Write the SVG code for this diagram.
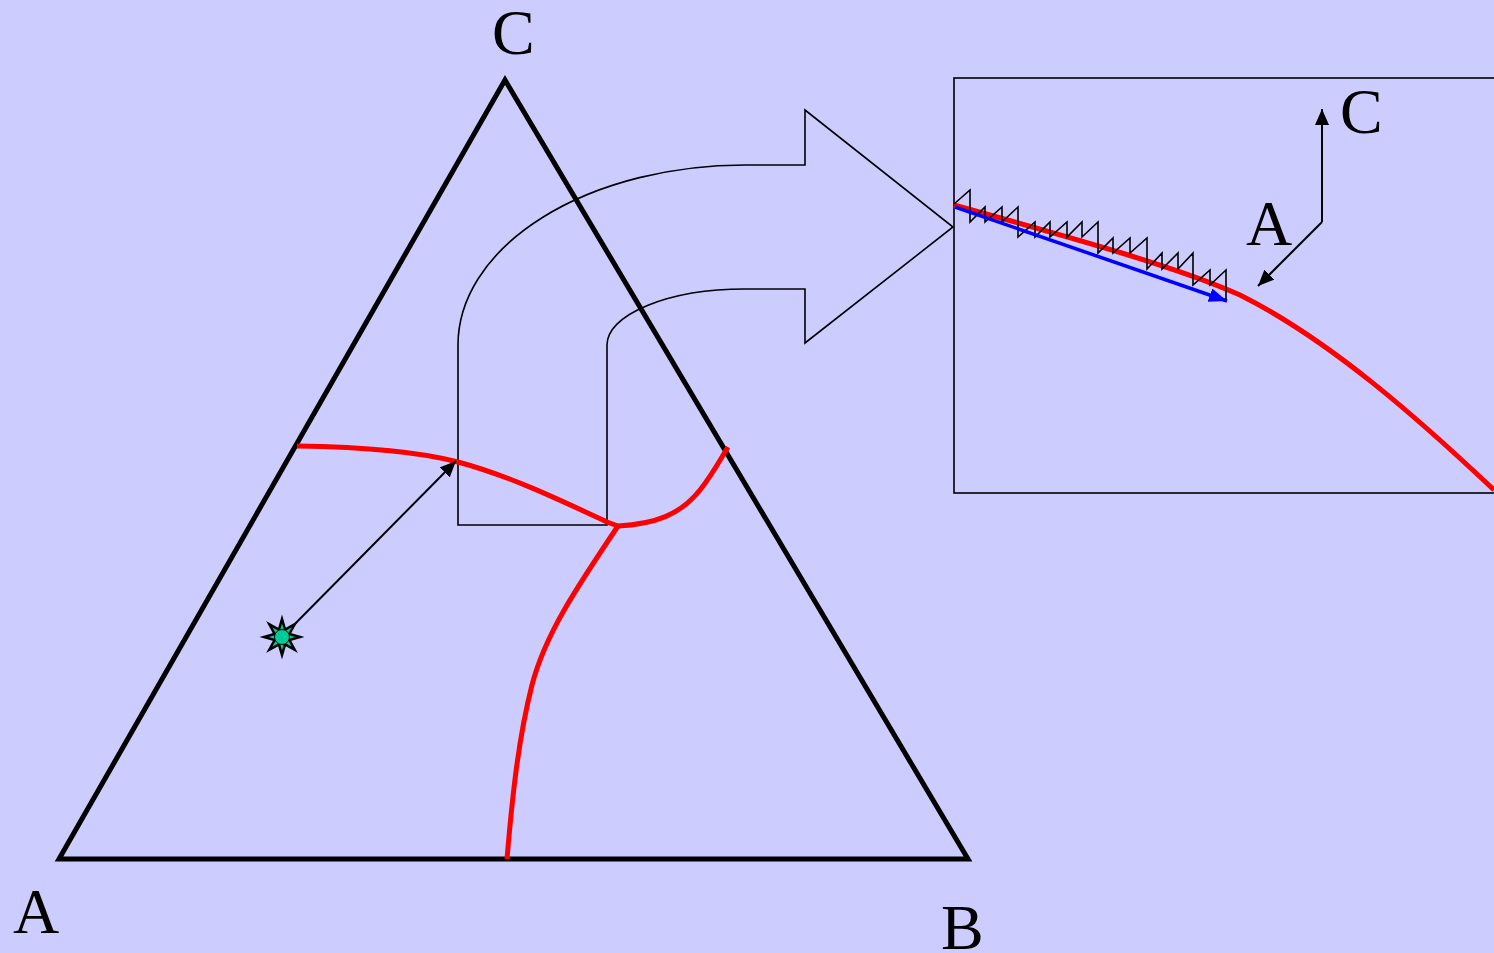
<svg xmlns="http://www.w3.org/2000/svg" width="1494" height="953" viewBox="0 0 1494 953">
<style>
.lbl{font-family:"Liberation Serif","Times New Roman",serif;font-size:64px;fill:#000}
.red{fill:none;stroke:#ff0000;stroke-width:5}
.thin{fill:none;stroke:#000;stroke-width:1.6}
</style>
<defs>
<marker id="ah" markerUnits="userSpaceOnUse" markerWidth="18" markerHeight="14" refX="16" refY="7" orient="auto"><path d="M0,0 L16,7 L0,14 z" fill="#000"/></marker>
<marker id="ahb" markerUnits="userSpaceOnUse" markerWidth="20" markerHeight="14" refX="18" refY="7" orient="auto"><path d="M0,0 L18,7 L0,14 z" fill="#0000ff"/></marker>
</defs>
<rect x="0" y="0" width="1494" height="953" fill="#ccccff"/>
<g id="triangle">
<polygon points="59,859 968,859 505,80" fill="none" stroke="#000" stroke-width="5"/>
</g>
<g id="labels">
<text class="lbl" x="492" y="54">C</text>
<text class="lbl" x="13" y="933">A</text>
<text class="lbl" x="941" y="949">B</text>
</g>
<g id="zoom-arrow">
<path class="thin" d="M458,525 L458,345 A287,180 0 0 1 745,165 L805,165 L805,110 L953,227 L805,343 L805,289 L745,289 A138,56 0 0 0 607,345 L607,525 Z"/>
</g>
<g id="boundaries">
<path class="red" d="M297,446 C370,447 420,452 458,462 C510,476 560,500 607,522 L618,526"/>
<path class="red" d="M618,526 C655,524 680,515 700,490 C712,475 720,460 728,447"/>
<path class="red" d="M618,526 C575,590 545,635 532,685 C518,740 512,800 507,859"/>
</g>
<g id="zoom-box">
<rect x="954" y="78" width="600" height="415" fill="none" stroke="#000" stroke-width="1.6"/>
<path class="red" d="M954,205 C1080,240 1180,268 1240,295 C1330,340 1420,420 1494,490"/>
<polyline fill="none" stroke="#000" stroke-width="1.6" points="954,204 970,190 970,222 985,207 985,222 1002,207 1002,222 1018,207 1018,237 1035,222 1035,237 1050,222 1050,237 1067,222 1067,237 1082,222 1082,237 1098,222 1098,253 1113,238 1113,253 1130,238 1130,253 1147,238 1147,269 1162,253 1162,269 1178,253 1178,269 1193,253 1193,285 1210,270 1210,285 1226,270 1226,300"/>
<text class="lbl" x="1340" y="133">C</text>
<text class="lbl" x="1246" y="245">A</text>
</g>
<g id="connectors">
<line x1="282" y1="637" x2="456" y2="461" stroke="#000" stroke-width="2" marker-end="url(#ah)"/>
<line x1="955" y1="207" x2="1227" y2="301" stroke="#0000ff" stroke-width="3.5" marker-end="url(#ahb)"/>
<polyline points="1322,222 1322,109" fill="none" stroke="#000" stroke-width="2" marker-end="url(#ah)"/>
<line x1="1322" y1="222" x2="1258" y2="286" stroke="#000" stroke-width="2" marker-end="url(#ah)"/>
</g>
<g id="point">
<polygon points="300,637 289.39,633.94 294.73,624.27 285.06,629.61 282,619 278.94,629.61 269.27,624.27 274.61,633.94 264,637 274.61,640.06 269.27,649.73 278.94,644.39 282,655 285.06,644.39 294.73,649.73 289.39,640.06" fill="#00cc99" stroke="#000" stroke-width="2.5" stroke-linejoin="miter"/>
<circle cx="282" cy="637" r="7.5" fill="#00cc99" stroke="#000" stroke-width="1"/>
</g>
</svg>
